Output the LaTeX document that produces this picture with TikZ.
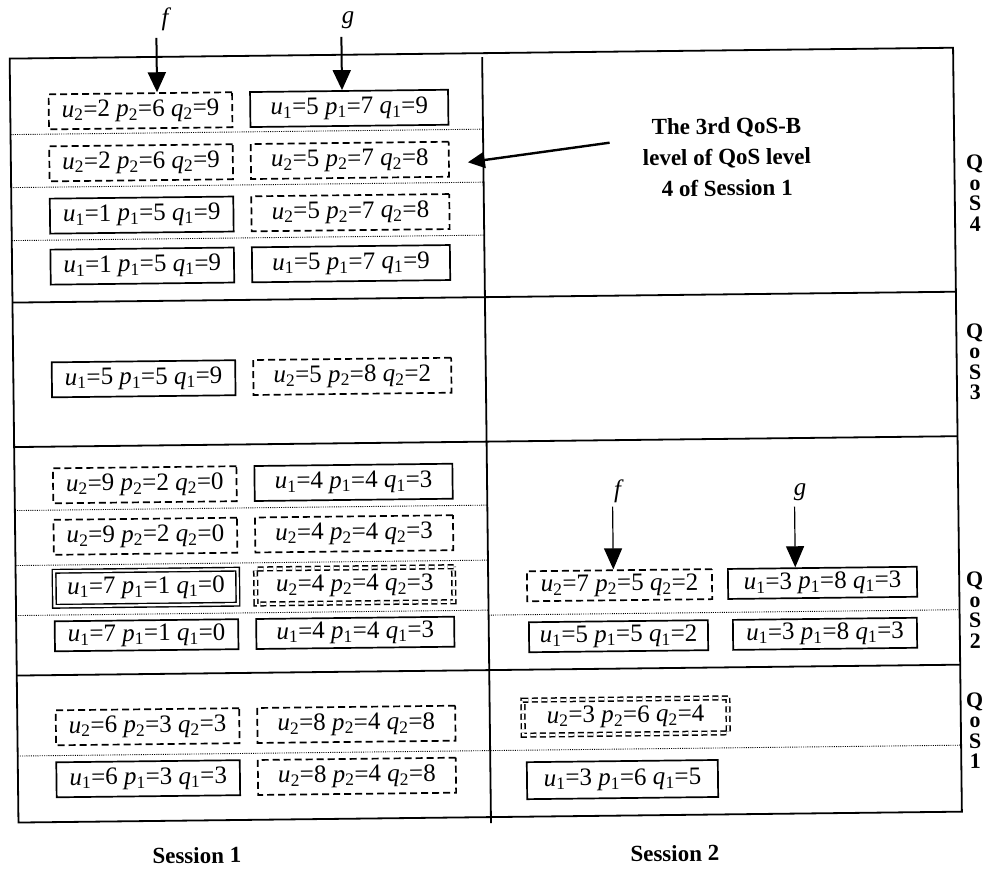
\documentclass[tikz,border=0pt]{standalone}
\usepackage{fontspec}
\setmainfont{Liberation Serif}
\usetikzlibrary{arrows.meta}
\newcommand{\vv}[3]{\textit{#1}\textsubscript{#2}=#3}
\newcommand{\boxtxt}[4]{\vv{u}{#1}{#2} \vv{p}{#1}{#3} \vv{q}{#1}{#4}}
\begin{document}
\begin{tikzpicture}[x=1pt,y=-1pt,
  frame/.style={line width=1.8pt},
  dots/.style={line width=0.9pt, dash pattern=on 1pt off 1.2pt},
  box/.style={minimum height=35pt, inner sep=0pt, font=\fontsize{25}{27}\selectfont},
  sbox/.style={box, draw, line width=1.7pt},
  dbox/.style={box, draw, line width=1.7pt, dash pattern=on 7pt off 4pt},
  ssbox/.style={box, draw, double, double distance=2.2pt, line width=1.4pt},
  ddbox/.style={box, draw, double, double distance=2.2pt, line width=1.5pt, dash pattern=on 6pt off 3.5pt},
  lcol/.style={minimum width=183.5pt},
  rcol/.style={minimum width=198pt},
  flab/.style={font=\fontsize{25}{27}\selectfont\itshape, inner sep=0pt},
  bigarrow/.style={line width=2pt, -{Triangle[length=20pt,width=18pt]}},
  thinarrow/.style={line width=1.2pt, -{Triangle[length=21pt,width=18pt]}},
  notearrow/.style={line width=2.4pt, -{Triangle[length=17pt,width=16pt]}},
  note/.style={font=\fontsize{23}{31}\selectfont\bfseries, align=center, inner sep=0pt},
  qos/.style={font=\fontsize{22}{20.5}\selectfont\bfseries, align=center, inner sep=0pt},
  sess/.style={font=\fontsize{23}{25}\selectfont\bfseries, inner sep=0pt}
]
\useasboundingbox (0,0) rectangle (995,868);
\begin{scope}[rotate around={0.66:(497,434)}, transform shape]
% frame
\draw[frame] (14,53) rectangle (957.5,817);
\draw[frame] (486.5,57) -- (486.5,823);
\foreach \yy in {297,441.5,670} \draw[frame] (14,\yy) -- (957.5,\yy);
\foreach \yy in {129,182,235,505,560,610} \draw[dots] (14,\yy) -- (486.5,\yy);
\draw[dots] (486.5,615) -- (957.5,615);
\draw[dots] (14,750.5) -- (957.5,750.5);
% QoS 4, session 1
\node[dbox,lcol] (b41L) at (144.25,106.7) {\boxtxt{2}{2}{6}{9}};
\node[sbox,rcol] (b41R) at (353,106.7) {\boxtxt{1}{5}{7}{9}};
\node[dbox,lcol] (b42L) at (144.25,158.7) {\boxtxt{2}{2}{6}{9}};
\node[dbox,rcol] (b42R) at (353,158.7) {\boxtxt{2}{5}{7}{8}};
\node[sbox,lcol] (b43L) at (144.25,211) {\boxtxt{1}{1}{5}{9}};
\node[dbox,rcol] (b43R) at (353,211) {\boxtxt{2}{5}{7}{8}};
\node[sbox,lcol] (b44L) at (144.25,262) {\boxtxt{1}{1}{5}{9}};
\node[sbox,rcol] (b44R) at (353,262) {\boxtxt{1}{5}{7}{9}};
% QoS 3
\node[sbox,lcol] (b3L) at (144.25,374.7) {\boxtxt{1}{5}{5}{9}};
\node[dbox,rcol] (b3R) at (353,374.7) {\boxtxt{2}{5}{8}{2}};
% QoS 2, session 1
\node[dbox,lcol] (b21L) at (144.25,480.7) {\boxtxt{2}{9}{2}{0}};
\node[sbox,rcol] (b21R) at (353,480.7) {\boxtxt{1}{4}{4}{3}};
\node[dbox,lcol] (b22L) at (144.25,532.2) {\boxtxt{2}{9}{2}{0}};
\node[dbox,rcol] (b22R) at (353,532.2) {\boxtxt{2}{4}{4}{3}};
\node[ssbox,lcol] (b23L) at (144.25,583.7) {\boxtxt{1}{7}{1}{0}};
\node[ddbox,rcol] (b23R) at (353,583.7) {\boxtxt{2}{4}{4}{3}};
\node[sbox,lcol,minimum height=30pt] (b24L) at (144.25,631.2) {\boxtxt{1}{7}{1}{0}};
\node[sbox,rcol,minimum height=30pt] (b24R) at (353,631.2) {\boxtxt{1}{4}{4}{3}};
% QoS 2, session 2
\node[dbox,minimum width=185pt,minimum height=30pt] (c21L) at (617.8,586.6) {\boxtxt{2}{7}{5}{2}};
\node[sbox,minimum width=189pt,minimum height=30pt] (c21R) at (820.8,586.6) {\boxtxt{1}{3}{8}{3}};
\node[sbox,minimum width=179pt,minimum height=30pt] (c22L) at (616.2,637.6) {\boxtxt{1}{5}{5}{2}};
\node[sbox,minimum width=184pt,minimum height=30pt] (c22R) at (822.7,637.6) {\boxtxt{1}{3}{8}{3}};
% QoS 1, session 1
\node[dbox,lcol] (b11L) at (144.25,722.7) {\boxtxt{2}{6}{3}{3}};
\node[dbox,rcol] (b11R) at (353,722.7) {\boxtxt{2}{8}{4}{8}};
\node[sbox,lcol] (b12L) at (144.25,774.7) {\boxtxt{1}{6}{3}{3}};
\node[dbox,rcol] (b12R) at (353,774.7) {\boxtxt{2}{8}{4}{8}};
% QoS 1, session 2
\node[ddbox,minimum width=205pt] (c11) at (622.3,718) {\boxtxt{2}{3}{6}{4}};
\node[sbox,minimum width=191pt,minimum height=37pt] (c12) at (618.5,781) {\boxtxt{1}{3}{6}{5}};
% f, g arrows
\node[flab] (f1) at (169.8,16) {f};
\node[flab] (g1) at (352.8,18) {g};
\coordinate (f1s) at (161,34);
\coordinate (g1s) at (346,35);
\draw[bigarrow] (f1s) -- (f1s |- b41L.north);
\draw[bigarrow] (g1s) -- (g1s |- b41R.north);
\node[flab] (f2) at (616.8,493) {f};
\node[flab] (g2) at (799.3,495.5) {g};
\coordinate (f2s) at (611.8,508);
\coordinate (g2s) at (793.8,510);
\draw[thinarrow] (f2s) -- (f2s |- c21L.north);
\draw[thinarrow] (g2s) -- (g2s |- c21R.north);
% note
\node[note] (note) at (730,159.6) {The 3rd QoS-B\\level of QoS level\\4 of Session 1};
\coordinate (annS) at (613,144);
\coordinate (annT) at (471,162);
\draw[notearrow] (annS) -- (annT);
% QoS labels
\node[qos] (q4) at (977.8,198.5) {Q\\o\\S\\4};
\node[qos] (q3) at (975.8,367.5) {Q\\o\\S\\3};
\node[qos] (q2) at (973,615.5) {Q\\o\\S\\2};
\node[qos] (q1) at (971.6,736) {Q\\o\\S\\1};
% sessions
\node[sess] (s1) at (192,852) {Session 1};
\node[sess] (s2) at (670,855.5) {Session 2};
\end{scope}
\end{tikzpicture}
\end{document}
